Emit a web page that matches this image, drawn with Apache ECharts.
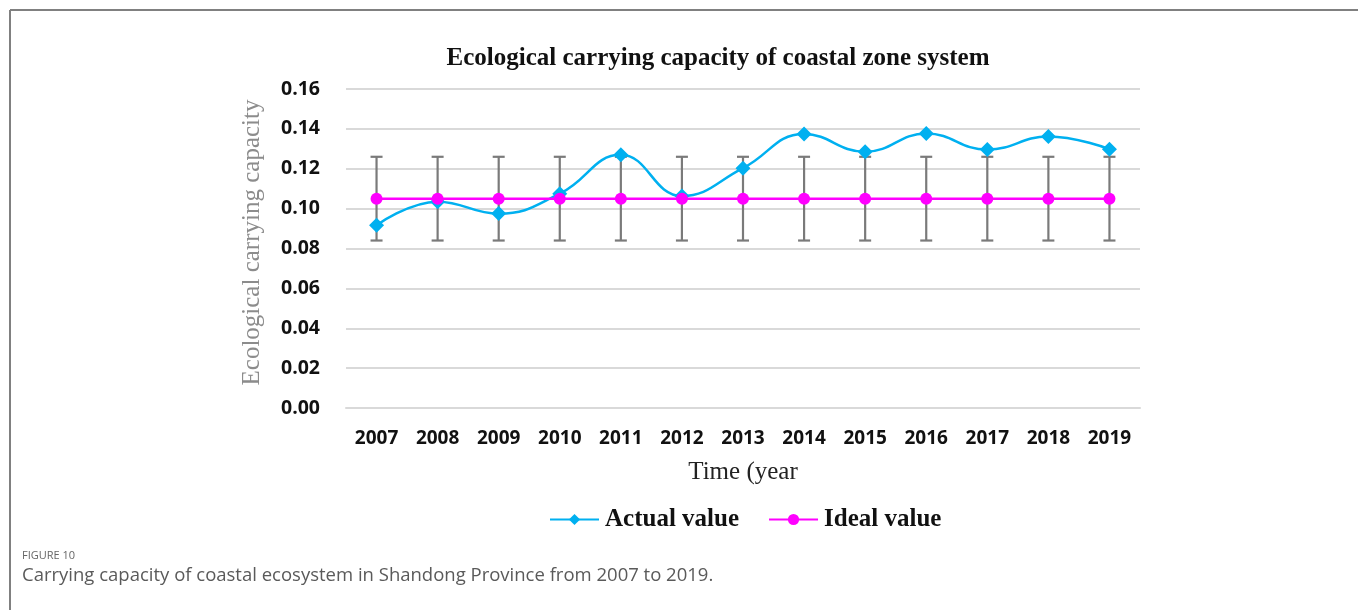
<!DOCTYPE html>
<html>
<head>
<meta charset="utf-8">
<title>Ecological carrying capacity of coastal zone system</title>
<script src="https://cdn.jsdelivr.net/npm/echarts@6/dist/echarts.min.js"></script>
<style>
  html, body { margin: 0; padding: 0; background: #ffffff; }
  #chart { width: 1358px; height: 610px; }
</style>
</head>
<body>
<div id="chart"></div>
<script>
// Years on the category axis
const years = ['2007', '2008', '2009', '2010', '2011', '2012', '2013', '2014', '2015', '2016', '2017', '2018', '2019'];
// Measured ecological carrying capacity of the coastal zone
const actualValues = [0.0917, 0.1035, 0.0975, 0.1075, 0.1270, 0.1063, 0.1203, 0.1374, 0.1285, 0.1377, 0.1296, 0.1362, 0.1298];
// Ideal (reference) carrying capacity
const idealValues = [0.105, 0.105, 0.105, 0.105, 0.105, 0.105, 0.105, 0.105, 0.105, 0.105, 0.105, 0.105, 0.105];
// Error range around the ideal value
const errorLow = [0.084, 0.084, 0.084, 0.084, 0.084, 0.084, 0.084, 0.084, 0.084, 0.084, 0.084, 0.084, 0.084];
const errorHigh = [0.126, 0.126, 0.126, 0.126, 0.126, 0.126, 0.126, 0.126, 0.126, 0.126, 0.126, 0.126, 0.126];
// Value axis ticks
const yTicks = { min: 0, max: 0.16, interval: 0.02 };

const chart = echarts.init(document.getElementById('chart'), null, { renderer: 'canvas' });

const errorData = years.map((y, i) => [i, errorLow[i], errorHigh[i]]);

const option = {
  backgroundColor: '#ffffff',
  animation: false,
  title: [
    {
      text: 'Ecological carrying capacity of coastal zone system',
      left: 718, top: 46, textAlign: 'center', padding: 0,
      textStyle: { fontFamily: 'Liberation Serif', fontWeight: 'bold', fontSize: 25, color: '#111111' }
    },
    {
      text: 'FIGURE 10',
      left: 22, top: 550, padding: 0,
      textStyle: { fontFamily: 'Open Sans', fontWeight: 'normal', fontSize: 11, color: '#666666' }
    },
    {
      text: 'Carrying capacity of coastal ecosystem in Shandong Province from 2007 to 2019.',
      left: 22, top: 566, padding: 0,
      textStyle: { fontFamily: 'Open Sans', fontWeight: 'normal', fontSize: 18.5, color: '#5a5a5a' }
    }
  ],
  graphic: [
    { type: 'line', shape: { x1: 10, y1: 10, x2: 1358, y2: 10 }, style: { stroke: '#808080', lineWidth: 2 } },
    { type: 'line', shape: { x1: 10, y1: 10, x2: 10, y2: 610 }, style: { stroke: '#808080', lineWidth: 2 } }
  ],
  legend: {
    data: ['Actual value', 'Ideal value'],
    left: 544, top: 502,
    itemWidth: 49, itemHeight: 14, itemGap: 29,
    textStyle: { fontFamily: 'Liberation Serif', fontWeight: 'bold', fontSize: 25, color: '#111111', padding: [0, 0, 0, 1] }
  },
  grid: { left: 346, right: 218, top: 89, bottom: 202, containLabel: false },
  xAxis: {
    type: 'category',
    data: years,
    boundaryGap: true,
    name: 'Time (year',
    nameLocation: 'middle',
    nameGap: 52,
    nameTextStyle: { fontFamily: 'Liberation Serif', fontSize: 25, color: '#222222' },
    axisLine: { show: true, lineStyle: { color: '#d9d9d9', width: 2 } },
    axisTick: { show: false },
    axisLabel: { margin: 21, fontFamily: 'Open Sans', fontWeight: 'bold', fontSize: 19, color: '#111111' }
  },
  yAxis: {
    type: 'value',
    min: yTicks.min, max: yTicks.max, interval: yTicks.interval,
    name: 'Ecological carrying capacity',
    nameLocation: 'middle',
    nameGap: 81,
    nameRotate: 90,
    nameTextStyle: { fontFamily: 'Liberation Serif', fontSize: 25, color: '#8c8c8c', padding: [0, 0, 0, 12] },
    axisLine: { show: false },
    axisTick: { show: false },
    axisLabel: { margin: 26, fontFamily: 'Open Sans', fontWeight: 'bold', fontSize: 19.5, color: '#111111',
                 formatter: v => v.toFixed(2) },
    splitLine: { lineStyle: { color: '#d9d9d9', width: 2 } }
  },
  series: [
    {
      name: 'Error range',
      type: 'custom',
      z: 1,
      data: errorData,
      encode: { x: 0, y: [1, 2] },
      renderItem: function (params, api) {
        const idx = api.value(0);
        const lo = api.coord([idx, api.value(1)]);
        const hi = api.coord([idx, api.value(2)]);
        const half = 6;
        const style = { stroke: '#7a7a7a', lineWidth: 2.2 };
        return {
          type: 'group',
          children: [
            { type: 'line', shape: { x1: lo[0], y1: lo[1], x2: hi[0], y2: hi[1] }, style: style },
            { type: 'line', shape: { x1: hi[0] - half, y1: hi[1], x2: hi[0] + half, y2: hi[1] }, style: style },
            { type: 'line', shape: { x1: lo[0] - half, y1: lo[1], x2: lo[0] + half, y2: lo[1] }, style: style }
          ]
        };
      }
    },
    {
      name: 'Actual value',
      type: 'line',
      z: 3,
      data: actualValues,
      smooth: 0.45,
      symbol: 'diamond',
      symbolSize: 15,
      lineStyle: { color: '#00b0f0', width: 2.5 },
      itemStyle: { color: '#00b0f0' }
    },
    {
      name: 'Ideal value',
      type: 'line',
      z: 4,
      data: idealValues,
      symbol: 'circle',
      symbolSize: 12,
      lineStyle: { color: '#ff00ff', width: 2.5 },
      itemStyle: { color: '#ff00ff' }
    }
  ]
};

chart.setOption(option);
</script>
</body>
</html>
